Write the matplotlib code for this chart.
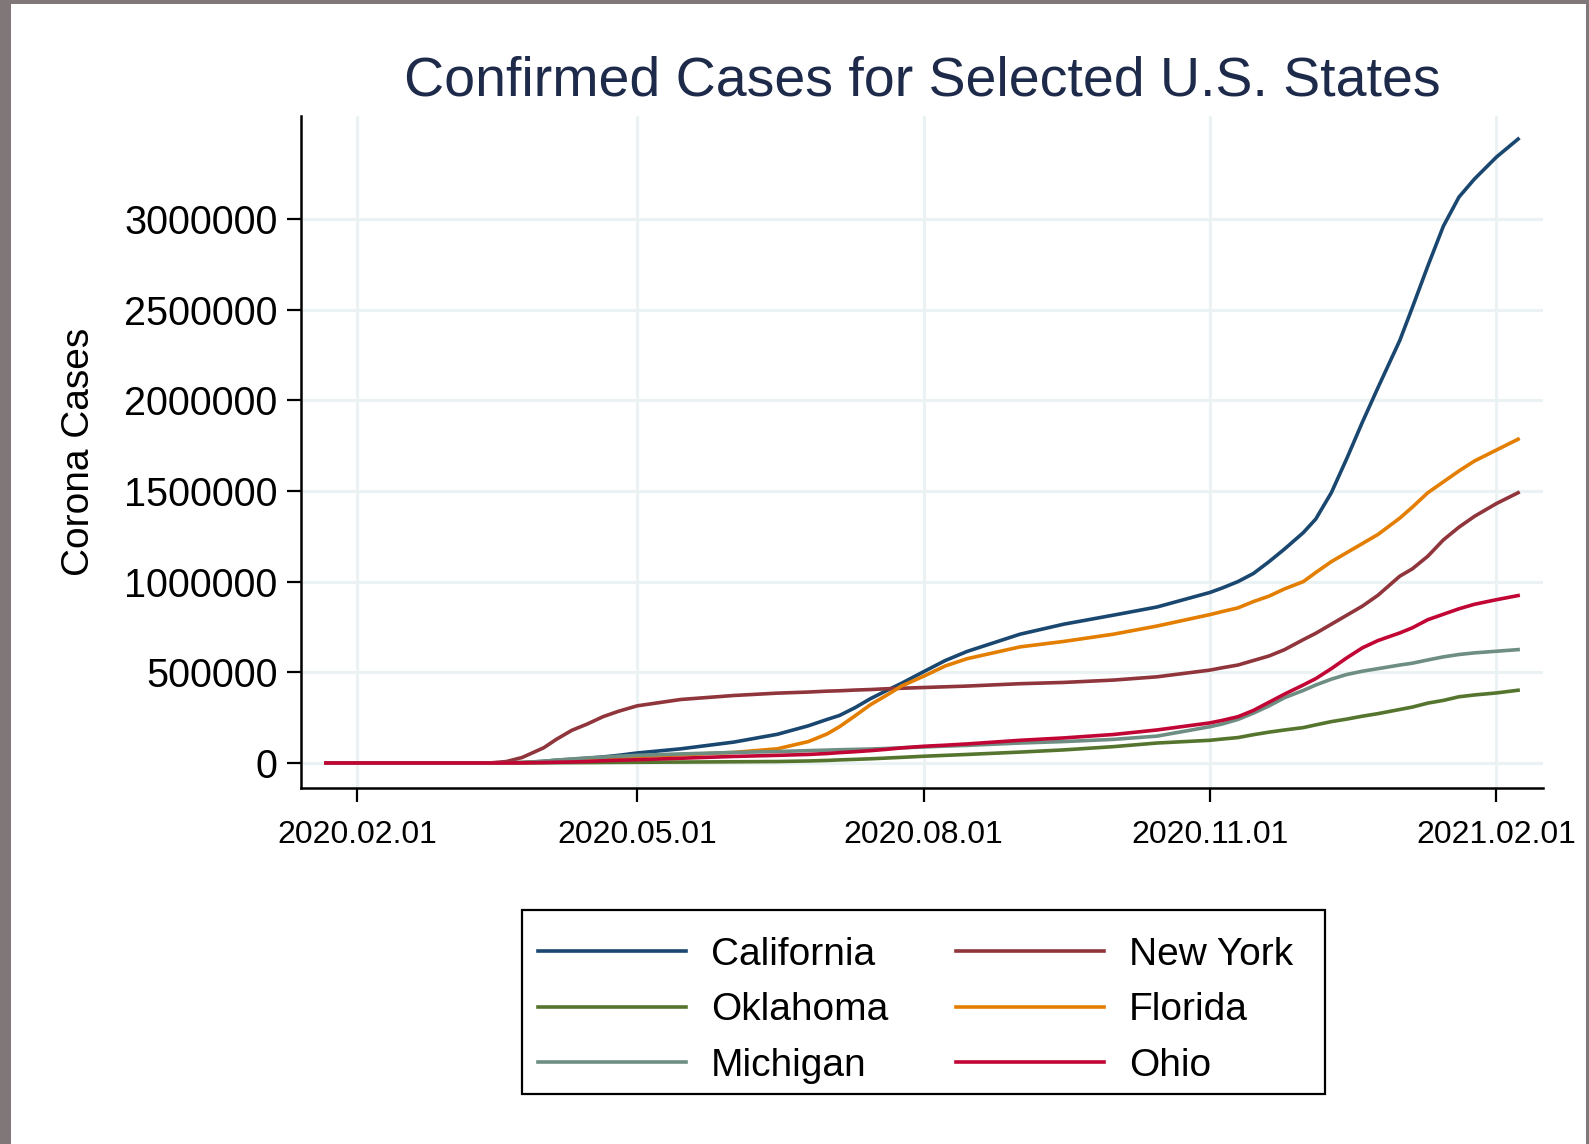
import numpy as np
import pandas as pd
import matplotlib
matplotlib.use("Agg")
import matplotlib.pyplot as plt
import matplotlib.dates as mdates
from matplotlib.patches import Rectangle

plt.rcParams['font.family'] = ['Liberation Sans', 'DejaVu Sans']

# --- Data (cumulative confirmed cases, in thousands) ---
dates = pd.to_datetime([
    "2020-01-22", "2020-03-01", "2020-03-10", "2020-03-15", "2020-03-20",
    "2020-03-25", "2020-04-01", "2020-04-05", "2020-04-10", "2020-04-15",
    "2020-04-20", "2020-04-25", "2020-05-01", "2020-05-15", "2020-06-01",
    "2020-06-15", "2020-06-25", "2020-07-01", "2020-07-05", "2020-07-10",
    "2020-07-15", "2020-07-20", "2020-07-25", "2020-08-01", "2020-08-08",
    "2020-08-15", "2020-09-01", "2020-09-15", "2020-10-01", "2020-10-15",
    "2020-11-01", "2020-11-05", "2020-11-10", "2020-11-15", "2020-11-20",
    "2020-11-25", "2020-12-01", "2020-12-05", "2020-12-10", "2020-12-15",
    "2020-12-20", "2020-12-25", "2021-01-01", "2021-01-05", "2021-01-10",
    "2021-01-15", "2021-01-20", "2021-01-25", "2021-02-01", "2021-02-08"])

california = [0, 0, 0.1, 0.4, 1, 2.6, 9, 15, 20, 26, 33, 42, 55, 78, 115,
              158, 205, 240, 262, 305, 355, 398, 440, 503, 565, 615, 710, 765,
              815, 860, 940, 965, 1000, 1045, 1110, 1180, 1270, 1345, 1490,
              1680, 1880, 2070, 2330, 2510, 2740, 2960, 3120, 3220, 3340, 3440]
new_york = [0, 0, 0.2, 0.7, 8, 30, 84, 130, 180, 215, 255, 285, 315, 350, 372,
            385, 391, 396, 398, 402, 405, 409, 412, 416, 420, 424, 437, 444,
            457, 475, 512, 525, 540, 565, 590, 625, 680, 715, 765, 815, 865,
            925, 1030, 1070, 1140, 1230, 1300, 1360, 1430, 1490]
oklahoma = [0, 0, 0, 0, 0.05, 0.2, 0.7, 1.2, 1.7, 2.2, 2.6, 3.2, 3.8, 5, 6.5,
            8, 11, 14, 17, 20, 23, 27, 31, 37, 42, 47, 60, 72, 90, 110, 125,
            132, 140, 156, 170, 182, 195, 210, 228, 242, 258, 272, 295, 308,
            330, 345, 365, 375, 386, 401]
florida = [0, 0, 0, 0.1, 0.5, 1.7, 7, 12, 16, 22, 27, 31, 36, 45, 58, 78, 118,
           160, 200, 260, 322, 372, 425, 478, 535, 575, 640, 670, 710, 755,
           818, 835, 855, 890, 920, 960, 1000, 1050, 1110, 1160, 1210, 1260,
           1350, 1410, 1490, 1550, 1610, 1665, 1725, 1785]
michigan = [0, 0, 0, 0, 0.5, 2.3, 9.3, 16, 22, 28, 32, 37, 42, 50, 58, 63, 68,
            71, 73, 75, 77, 80, 84, 88, 93, 97, 110, 118, 130, 148, 200, 215,
            240, 275, 315, 360, 400, 430, 462, 488, 506, 520, 540, 550, 568,
            585, 598, 607, 616, 625]
ohio = [0, 0, 0, 0, 0.2, 0.7, 2.5, 4, 5.5, 8, 12, 15, 18, 26, 36, 42, 47, 52,
        57, 62, 68, 75, 83, 92, 98, 105, 125, 138, 157, 182, 221, 235, 255,
        290, 335, 380, 430, 465, 520, 580, 635, 675, 717, 745, 790, 820, 850,
        875, 900, 923]

states = ["California", "New York", "Oklahoma", "Florida", "Michigan", "Ohio"]
series = [california, new_york, oklahoma, florida, michigan, ohio]
colors = ["#1a476f", "#90353b", "#55752f", "#e37e00", "#6e8e84", "#c10534"]

W, H = 1589, 1144

# --- Figure with screenshot frame ---
fig = plt.figure(figsize=(W / 100, H / 100), dpi=100)
fig.patch.set_facecolor("#807878")
fig.patches.append(Rectangle((11 / W, 0), (1586 - 11) / W, 1 - 4 / H,
                             transform=fig.transFigure, facecolor="white",
                             edgecolor="none", zorder=-10))

ax = fig.add_axes([301 / W, 1 - 788 / H, (1543 - 301) / W, (788 - 116) / H])
ax.set_facecolor("white")

lines = {}
for name, vals, c in zip(states, series, colors):
    ln, = ax.plot(dates, np.array(vals) * 1000, color=c, lw=2.6, label=name,
                  solid_joinstyle="round")
    lines[name] = ln

ax.set_xlim(pd.Timestamp("2020-01-14"), pd.Timestamp("2021-02-16"))
ax.set_ylim(-138000, 3567000)

ax.set_yticks([0, 500000, 1000000, 1500000, 2000000, 2500000, 3000000])
ax.set_yticklabels(["0", "500000", "1000000", "1500000", "2000000", "2500000", "3000000"])
xt = pd.to_datetime(["2020-02-01", "2020-05-01", "2020-08-01", "2020-11-01", "2021-02-01"])
ax.set_xticks(xt)
ax.xaxis.set_major_formatter(mdates.DateFormatter("%Y.%m.%d"))

ax.grid(True, color="#eaf2f3", lw=2.2)
ax.set_axisbelow(True)
for s in ["top", "right"]:
    ax.spines[s].set_visible(False)
for s in ["left", "bottom"]:
    ax.spines[s].set_linewidth(1.8)
    ax.spines[s].set_color("black")

ax.tick_params(axis="y", labelsize=28.5, length=10, width=1.6, pad=7)
ax.tick_params(axis="x", labelsize=23, length=10, width=1.6, pad=13)

fig.text(79 / W, 1 - 452 / H, "Corona Cases", rotation=90, fontsize=28,
         ha="center", va="center")
fig.text(922 / W, 1 - 82 / H, "Confirmed Cases for Selected U.S. States",
         fontsize=40, color="#1e2a4a", ha="center", va="center")

# legend: entries without frame, frame drawn as its own box
order = ["California", "Oklahoma", "Michigan", "New York", "Florida", "Ohio"]
leg = fig.legend([lines[n] for n in order], order, ncol=2, loc="upper left",
                 bbox_to_anchor=(538 / W, 1 - 937 / H), fontsize=28,
                 handlelength=3.8, handletextpad=0.65, columnspacing=1.74,
                 labelspacing=0.5, borderpad=0, borderaxespad=0,
                 frameon=False)
fig.patches.append(Rectangle((522 / W, 1 - 1094 / H), (1325 - 522) / W,
                             (1094 - 910) / H, transform=fig.transFigure,
                             facecolor="none", edgecolor="black", lw=1.6,
                             zorder=5))

fig.savefig("out.png", dpi=100, facecolor=fig.get_facecolor())
